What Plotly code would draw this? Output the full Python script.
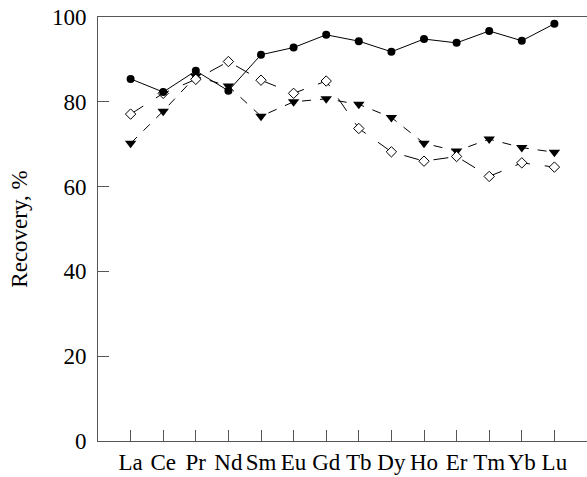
import plotly.graph_objects as go

elements = ["La", "Ce", "Pr", "Nd", "Sm", "Eu", "Gd", "Tb", "Dy", "Ho", "Er", "Tm", "Yb", "Lu"]
series_circle = [85.4, 82.3, 87.3, 82.6, 91.1, 92.8, 95.8, 94.3, 91.8, 94.8, 93.9, 96.7, 94.4, 98.4]
series_diamond = [77.1, 82.0, 85.3, 89.5, 85.1, 82.0, 84.9, 73.7, 68.2, 66.0, 67.1, 62.4, 65.6, 64.6]
series_triangle = [70.2, 77.8, 86.0, 83.7, 76.6, 80.0, 80.7, 79.4, 76.3, 70.2, 68.4, 71.2, 69.2, 68.1]
y_ticks = [0, 20, 40, 60, 80, 100]

x = list(range(len(elements)))
fig = go.Figure()
fig.add_trace(go.Scatter(x=x, y=series_triangle, mode="lines+markers",
                         line=dict(color="black", width=1, dash="dash"),
                         marker=dict(symbol="triangle-down", size=10, color="black")))
fig.add_trace(go.Scatter(x=x, y=series_diamond, mode="lines+markers",
                         line=dict(color="black", width=1, dash="longdash"),
                         marker=dict(symbol="diamond", size=8, color="white",
                                     line=dict(color="black", width=1))))
fig.add_trace(go.Scatter(x=x, y=series_circle, mode="lines+markers",
                         line=dict(color="black", width=1),
                         marker=dict(symbol="circle", size=8, color="black")))

font = dict(family="Liberation Serif", size=23, color="black")
fig.update_layout(
    width=587, height=477,
    margin=dict(l=98, r=0, t=17, b=36, autoexpand=False),
    plot_bgcolor="white", paper_bgcolor="white",
    showlegend=False,
    font=font,
    xaxis=dict(range=[-1, 14], tickmode="array", tickvals=x, ticktext=elements,
               tickangle=0, ticklabeloverflow="allow",
               showgrid=False, zeroline=False, showline=True, linecolor="#555",
               linewidth=1, mirror=True, ticks="inside", ticklen=11,
               tickcolor="#555", tickfont=font, automargin=False),
    yaxis=dict(range=[0, 100], tickvals=y_ticks, showgrid=False, zeroline=False,
               showline=True, linecolor="#555", linewidth=1, ticks="inside",
               ticklen=11, tickcolor="#555", tickfont=font, automargin=False,
               ticklabelstandoff=6, ticklabeloverflow="allow",
               title=dict(text="Recovery, %", font=font, standoff=17)),
)
fig.write_html(
    "out.html",
    config={"displayModeBar": False},
    post_script=("document.body.style.margin='0';"
                 "document.body.style.overflow='hidden';"
                 "document.documentElement.style.overflow='hidden';"),
)
